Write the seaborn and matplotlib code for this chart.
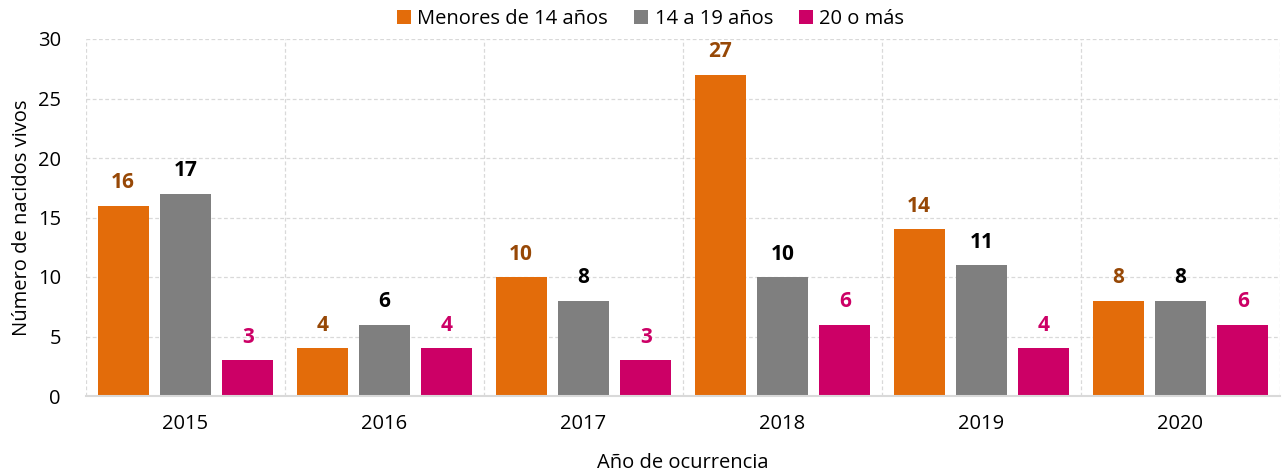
import pandas as pd
import matplotlib
matplotlib.use("Agg")
import matplotlib.pyplot as plt
import seaborn as sns

# Data
years = ["2015", "2016", "2017", "2018", "2019", "2020"]
menores_14 = [16, 4, 10, 27, 14, 8]
de_14_a_19 = [17, 6, 8, 10, 11, 8]
veinte_o_mas = [3, 4, 3, 6, 4, 6]
groups = ["Menores de 14 años", "14 a 19 años", "20 o más"]

bar_colors = ["#E36C0A", "#7F7F7F", "#CC0066"]
label_colors = ["#974806", "#000000", "#CC0066"]

df = pd.DataFrame({
    "Año": years * 3,
    "Grupo": [groups[0]] * 6 + [groups[1]] * 6 + [groups[2]] * 6,
    "Valor": menores_14 + de_14_a_19 + veinte_o_mas,
})

sns.set_theme(style="white")
plt.rcParams["font.family"] = ["Open Sans", "DejaVu Sans"]
plt.rcParams["text.color"] = "black"
plt.rcParams["axes.labelcolor"] = "black"

fig = plt.figure(figsize=(12.82, 4.74), dpi=100)
ax = fig.add_axes([86 / 1282, 1 - 396 / 474, (1280 - 86) / 1282, (396 - 39) / 474])

sns.barplot(data=df, x="Año", y="Valor", hue="Grupo", hue_order=groups,
            palette=bar_colors, width=0.94, gap=0.18, saturation=1,
            edgecolor="none", ax=ax, legend=True)

# value labels
for cont, col in zip(ax.containers, label_colors):
    ax.bar_label(cont, padding=9, color=col, fontsize=15, fontweight="bold")

ax.set_ylim(0, 30)
ax.set_yticks(range(0, 31, 5))
ax.set_xlim(-0.5, 5.5)

# grid: horizontal at ticks, vertical between categories
for y in range(5, 31, 5):
    ax.axhline(y, color="#D9D9D9", lw=0.9, ls=(0, (3, 2)), zorder=0)
for x in [0.5 + i for i in range(-1, 6)]:
    ax.axvline(x, color="#D9D9D9", lw=0.9, ls=(0, (3, 2)), zorder=0)

for s in ["top", "right", "left"]:
    ax.spines[s].set_visible(False)
ax.spines["bottom"].set_color("#D9D9D9")
ax.spines["bottom"].set_linewidth(1.5)

ax.tick_params(axis="both", length=0, labelsize=14.5, colors="#000000")
ax.tick_params(axis="x", pad=13)
ax.tick_params(axis="y", pad=18)
ax.set_xlabel("Año de ocurrencia", fontsize=14.5, labelpad=14)
ax.set_ylabel("Número de nacidos vivos", fontsize=14.5, labelpad=4)

ax.legend(loc="lower center", bbox_to_anchor=(0.473, 1.005), ncol=3, frameon=False,
          fontsize=14.5, handlelength=0.7, handleheight=0.7, handletextpad=0.3,
          columnspacing=1.3, borderaxespad=0)

fig.savefig("out.png", dpi=100)
